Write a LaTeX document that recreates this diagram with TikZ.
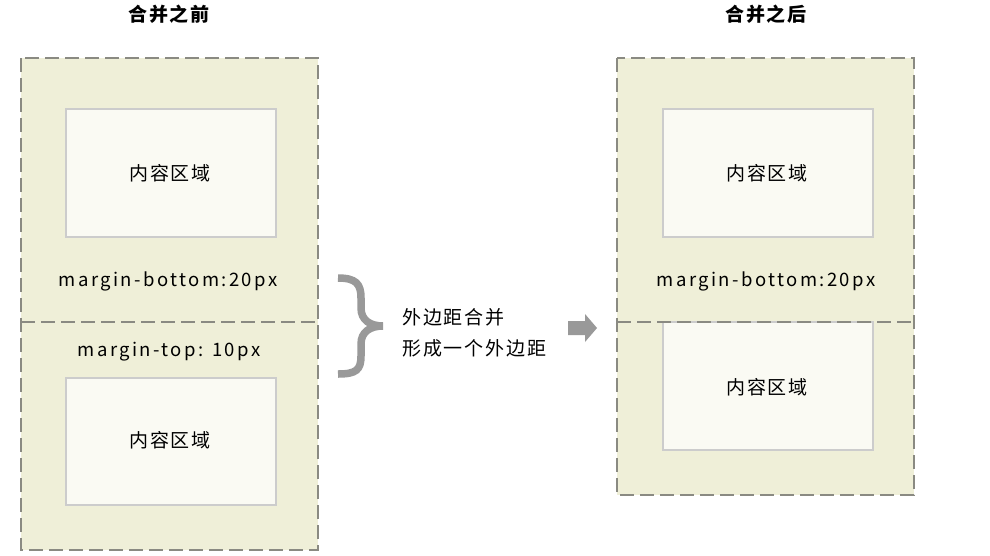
\documentclass[tikz,border=0pt]{standalone}
\usepackage{fontspec}
\newfontfamily\cjk[LetterSpace=10]{Noto Sans CJK SC}
\newfontfamily\cjkm[LetterSpace=13]{Noto Sans CJK SC}
\definecolor{outerfill}{HTML}{EFEFD8}
\definecolor{innerfill}{HTML}{FAFAF3}
\definecolor{innerline}{HTML}{CCCCCC}
\definecolor{dashline}{HTML}{8A8A82}
\definecolor{graymark}{HTML}{999999}
\tikzset{
  outerbox/.style={fill=outerfill, draw=dashline, line width=2pt, dash pattern=on 14pt off 6pt},
  divider/.style={draw=dashline, line width=2pt, dash pattern=on 14pt off 6pt},
  innerbox/.style={fill=innerfill, draw=innerline, line width=1.6pt},
  lbl/.style={font=\cjk\fontsize{19}{23}\selectfont, text=black, inner sep=0pt},
  mlbl/.style={font=\cjkm\fontsize{18.5}{23}\selectfont, text=black, inner sep=0pt},
  ttl/.style={font=\cjk\bfseries\fontsize{19}{23}\selectfont, text=black, inner sep=0pt},
}
\begin{document}
\begin{tikzpicture}[x=1pt,y=-1pt]
\path[fill=white] (0,0) rectangle (990,555);
\useasboundingbox (0,0) rectangle (990,555);
% titles
\node[ttl] (t1) at (169,14) {合并之前};
\node[ttl] (t2) at (766,14) {合并之后};
% left outer
\path[outerbox] (21,58) rectangle (318,550);
\draw[divider] (21,322) -- (318,322);
\node[innerbox, minimum width=210pt, minimum height=128pt, anchor=north west] (l1) at (65,108) {};
\node[lbl] (l1t) at (170,173) {内容区域};
\node[mlbl] (lmb) at (168,281) {margin-bottom:20px};
\node[mlbl] (lmt) at (169,352) {margin-top: 10px};
\node[innerbox, minimum width=210pt, minimum height=127pt, anchor=north west] (l2) at (65,377) {};
\node[lbl] (l2t) at (170,440) {内容区域};
% right outer
\path[outerbox] (617,58) rectangle (914,495);
\node[innerbox, minimum width=210pt, minimum height=128pt, anchor=north west] (r1) at (662,108) {};
\node[lbl] (r1t) at (767,173) {内容区域};
\node[mlbl] (rmb) at (766,281) {margin-bottom:20px};
\node[innerbox, minimum width=210pt, minimum height=128pt, anchor=north west] (r2) at (662,321) {};
\draw[divider] (617,322) -- (914,322);
\node[lbl] (r2t) at (767,387) {内容区域};
% brace
\draw[graymark, line width=7.5pt, line cap=butt]
  (338,278) .. controls (356,278) and (361,284) .. (361,298)
  -- (361,308) .. controls (361,320) and (370,326) .. (383,326)
  .. controls (370,326) and (361,332) .. (361,344)
  -- (361,356) .. controls (361,370) and (356,374) .. (338,374);
% middle text
\node[lbl, anchor=west] (m1) at (402,317) {外边距合并};
\node[lbl, anchor=west] (m2) at (402,348) {形成一个外边距};
% arrow
\fill[graymark] (568,321) -- (585,321) -- (585,314) -- (597,328) -- (585,342) -- (585,335) -- (568,335) -- cycle;
\end{tikzpicture}
\end{document}
